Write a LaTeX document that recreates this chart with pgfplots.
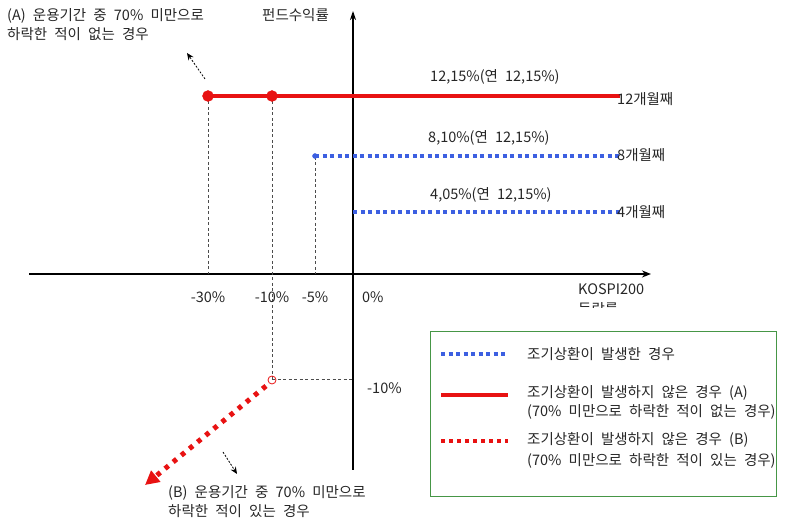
\documentclass[border=0pt]{standalone}
\usepackage{fontspec}
\setmainfont{Noto Sans CJK KR}[WordSpace=2.2]
\usepackage{pgfplots}
\pgfplotsset{compat=1.18}
\usetikzlibrary{arrows.meta}
\definecolor{redA}{RGB}{232,18,18}
\definecolor{blueA}{RGB}{60,95,225}
\definecolor{boxgreen}{RGB}{70,150,70}
\tikzset{txt/.style={font=\fontsize{14.5}{16}\selectfont, inner sep=0pt, text=black!85}}
\begin{document}
\begin{tikzpicture}
\begin{axis}[
  scale only axis, width=804pt, height=519pt,
  xmin=0, xmax=804, ymin=0, ymax=519,
  axis lines=none, clip=false,
]
\coordinate (bl) at (axis cs:0,0);
\coordinate (tr) at (axis cs:804,519);
% axes
\addplot[black, line width=1.6pt, -{Stealth[length=9pt,width=7pt]}] coordinates {(29,245) (651,245)};
\addplot[black, line width=1.6pt, -{Stealth[length=9pt,width=6pt]}] coordinates {(353,49) (353,508)};
% dashed guides
\addplot[black!70, line width=1pt, dash pattern=on 3pt off 2.5pt] coordinates {(208,423) (208,245)};
\addplot[black!70, line width=1pt, dash pattern=on 3pt off 2.5pt] coordinates {(272,423) (272,139)};
\addplot[black!70, line width=1pt, dash pattern=on 3pt off 2.5pt] coordinates {(315,362) (315,245)};
\addplot[black!70, line width=1pt, dash pattern=on 3pt off 2.5pt] coordinates {(272,139) (353,139)};
% payoff lines
\addplot[redA, line width=4.5pt] coordinates {(208,423) (620,423)};
\addplot[redA, only marks, mark=*, mark size=5.5pt] coordinates {(208,423) (272,423)};
\addplot[blueA, line width=4pt, dash pattern=on 4pt off 3.5pt] coordinates {(315,363) (620,363)};
\addplot[blueA, only marks, mark=*, mark size=2.5pt] coordinates {(315,363)};
\addplot[blueA, line width=4pt, dash pattern=on 4pt off 3.5pt] coordinates {(353,307) (620,307)};
% case B
\addplot[redA, line width=5pt, dash pattern=on 4.5pt off 6pt, -{Triangle[length=14pt,width=14pt]}] coordinates {(266,133) (145,34)};
\addplot[redA, only marks, mark=o, mark size=4pt, line width=0.8pt, fill=white] coordinates {(272,139)};
% annotation arrows
\addplot[black, line width=0.8pt, dash pattern=on 2pt off 1.5pt, -{Stealth[length=7pt,width=6pt]}] coordinates {(205,440) (187,466)};
\addplot[black, line width=0.8pt, dash pattern=on 2pt off 1.5pt, -{Stealth[length=7pt,width=6pt]}] coordinates {(223,67) (237,45)};
% texts
\node[txt, anchor=west] at (axis cs:7,503) {(A) 운용기간 중 70\% 미만으로};
\node[txt, anchor=west] at (axis cs:7,485) {하락한 적이 없는 경우};
\node[txt, anchor=west] at (axis cs:262,504) {펀드수익률};
\node[txt, anchor=west] at (axis cs:430,442) {12,15\%(연 12,15\%)};
\node[txt, anchor=west] at (axis cs:428,381) {8,10\%(연 12,15\%)};
\node[txt, anchor=west] at (axis cs:430,324) {4,05\%(연 12,15\%)};
\node[txt, anchor=west] at (axis cs:617,420) {12개월째};
\node[txt, anchor=west] at (axis cs:617,364) {8개월째};
\node[txt, anchor=west] at (axis cs:617,307) {4개월째};
\node[txt] at (axis cs:208,222) {-30\%};
\node[txt] at (axis cs:272,222) {-10\%};
\node[txt] at (axis cs:315,222) {-5\%};
\node[txt, anchor=west] at (axis cs:362,222) {0\%};
\node[txt, anchor=west] at (axis cs:578,230) {KOSPI200};
\begin{scope}
\clip (axis cs:570,218) rectangle (axis cs:660,211);
\node[txt, anchor=west] at (axis cs:578,210) {등락률};
\end{scope}
\node[txt, anchor=west] at (axis cs:367,131) {-10\%};
\node[txt, anchor=west] at (axis cs:168,26) {(B) 운용기간 중 70\% 미만으로};
\node[txt, anchor=west] at (axis cs:168,8) {하락한 적이 있는 경우};
% legend box
\draw[boxgreen, line width=1pt] (axis cs:430,187) rectangle (axis cs:776,22);
\addplot[blueA, line width=4pt, dash pattern=on 4pt off 3.5pt] coordinates {(441,165) (508,165)};
\addplot[redA, line width=4pt] coordinates {(441,124) (508,124)};
\addplot[redA, line width=3.5pt, dash pattern=on 3.5pt off 4.5pt] coordinates {(441,78) (508,78)};
\node[txt, anchor=west] at (axis cs:527,165) {조기상환이 발생한 경우};
\node[txt, anchor=west] at (axis cs:527,126) {조기상환이 발생하지 않은 경우 (A)};
\node[txt, anchor=west] at (axis cs:527,107) {(70\% 미만으로 하락한 적이 없는 경우)};
\node[txt, anchor=west] at (axis cs:527,79) {조기상환이 발생하지 않은 경우 (B)};
\node[txt, anchor=west] at (axis cs:527,58) {(70\% 미만으로 하락한 적이 있는 경우)};
\end{axis}
\pgfresetboundingbox
\path (bl) rectangle (tr);
\end{tikzpicture}
\end{document}
